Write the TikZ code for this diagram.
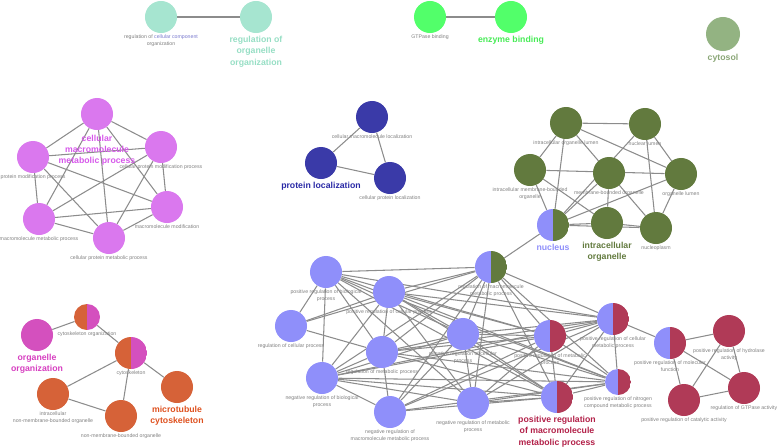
\documentclass[tikz,border=0pt]{standalone}
\usepackage{fontspec}
\setmainfont{Liberation Sans}
\usetikzlibrary{positioning, backgrounds}
\definecolor{cTeal}{RGB}{166,229,208}
\definecolor{cTealTxt}{RGB}{150,222,196}
\definecolor{cLime}{RGB}{82,255,106}
\definecolor{cLimeTxt}{RGB}{70,235,85}
\definecolor{cSage}{RGB}{147,179,130}
\definecolor{cSageTxt}{RGB}{138,166,118}
\definecolor{cPink}{RGB}{218,120,238}
\definecolor{cPinkTxt}{RGB}{214,88,234}
\definecolor{cNavy}{RGB}{58,58,168}
\definecolor{cNavyTxt}{RGB}{40,40,165}
\definecolor{cOlive}{RGB}{98,122,62}
\definecolor{cPeri}{RGB}{143,143,250}
\definecolor{cCrimson}{RGB}{176,58,87}
\definecolor{cCrimsonTxt}{RGB}{178,32,72}
\definecolor{cRust}{RGB}{214,98,56}
\definecolor{cRustTxt}{RGB}{222,80,30}
\definecolor{cMagenta}{RGB}{212,80,190}
\definecolor{cMagentaTxt}{RGB}{214,62,192}
\definecolor{cSel}{RGB}{120,120,205}
\definecolor{cLabel}{RGB}{128,128,128}
\definecolor{cEdge}{RGB}{140,140,140}
\tikzset{
	term/.style     ={circle, minimum size=0.8cm, inner sep=0pt, fill=#1},
	hterm/.style 2 args={circle, minimum size=0.8cm, inner sep=0pt,
		path picture={\fill[#1] (path picture bounding box.south west) rectangle (path picture bounding box.north);
			\fill[#2] (path picture bounding box.south) rectangle (path picture bounding box.north east);}},
	lbl/.style      ={font=\fontsize{3.7}{4.9}\selectfont, text=cLabel, align=center, inner sep=0pt, below=1pt of #1},
	hub/.style      ={font=\bfseries\fontsize{6.2}{8}\selectfont, align=center, inner sep=0pt},
	link/.style     ={draw=cEdge, line width=0.75pt},
}
\begin{document}
\begin{tikzpicture}[x=0.025cm, y=-0.025cm]
	\useasboundingbox (0,0) rectangle (778,448);
	% top pairs and cytosol
	\node[term=cTeal] (regcell) at (161,17) {};
	\node[term=cTeal] (regorg) at (256,17) {};
	\node[term=cLime] (gtpbind) at (430,17) {};
	\node[term=cLime] (enzbind) at (511,17) {};
	\node[term=cSage, minimum size=0.85cm] (cytosol) at (723,34) {};
	\node[lbl=regcell] (regcell-l) {regulation of \textcolor{cSel}{cellular component}\\organization};
	\node[lbl=gtpbind] (gtpbind-l) {GTPase binding};
	\node[hub, text=cTealTxt, below=2pt of regorg] (regorg-l) {regulation of\\organelle\\organization};
	\node[hub, text=cLimeTxt, below=2pt of enzbind] (enzbind-l) {enzyme binding};
	\node[hub, text=cSageTxt, below=2pt of cytosol] (cytosol-l) {cytosol};
	% cellular macromolecule metabolic process
	\node[term=cPink] (cmmp) at (97,114) {};
	\node[term=cPink] (pmp) at (33,157) {};
	\node[term=cPink] (cpmp) at (161,147) {};
	\node[term=cPink] (mmod) at (167,207) {};
	\node[term=cPink] (mmp) at (39,219) {};
	\node[term=cPink] (cpmetp) at (109,238) {};
	\node[lbl=pmp] (pmp-l) {protein modification process};
	\node[lbl=cpmp] (cpmp-l) {cellular protein modification process};
	\node[lbl=mmod] (mmod-l) {macromolecule modification};
	\node[lbl=mmp] (mmp-l) {macromolecule metabolic process};
	\node[lbl=cpmetp] (cpmetp-l) {cellular protein metabolic process};
	\node[hub, text=cPinkTxt, below=3pt of cmmp] (cmmp-l) {cellular\\macromolecule\\metabolic process};
	% protein localization
	\node[term=cNavy] (cml) at (372,117) {};
	\node[term=cNavy] (protloc) at (321,163) {};
	\node[term=cNavy] (cpl) at (390,178) {};
	\node[lbl=cml] (cml-l) {cellular macromolecule localization};
	\node[lbl=cpl] (cpl-l) {cellular protein localization};
	\node[hub, text=cNavyTxt, below=2pt of protloc] (protloc-l) {protein localization};
	% intracellular organelle
	\node[term=cOlive] (iol) at (566,123) {};
	\node[term=cOlive] (nl) at (645,124) {};
	\node[term=cOlive] (imbo) at (530,170) {};
	\node[term=cOlive] (mbo) at (609,173) {};
	\node[term=cOlive] (ol) at (681,174) {};
	\node[hterm={cPeri}{cOlive}] (nuc) at (553,225) {};
	\node[term=cOlive] (io) at (607,223) {};
	\node[term=cOlive] (np) at (656,228) {};
	\node[lbl=iol] (iol-l) {intracellular organelle lumen};
	\node[lbl=nl] (nl-l) {nuclear lumen};
	\node[lbl=imbo] (imbo-l) {intracellular membrane-bounded\\organelle};
	\node[lbl=mbo] (mbo-l) {membrane-bounded organelle};
	\node[lbl=ol] (ol-l) {organelle lumen};
	\node[lbl=np] (np-l) {nucleoplasm};
	\node[hub, text=cPeri, below=2pt of nuc] (nuc-l) {nucleus};
	\node[hub, text=cOlive, below=2pt of io] (io-l) {intracellular\\organelle};
	% regulation cluster
	\node[hterm={cPeri}{cOlive}] (rmmp) at (491,267) {};
	\node[term=cPeri] (prbp) at (326,272) {};
	\node[term=cPeri] (prcp) at (389,292) {};
	\node[term=cPeri] (rcp) at (291,326) {};
	\node[term=cPeri] (rmp) at (382,352) {};
	\node[term=cPeri] (nrbp) at (322,378) {};
	\node[term=cPeri] (nrmmp) at (390,412) {};
	\node[term=cPeri] (nrcp) at (463,334) {};
	\node[term=cPeri] (nrmetp) at (473,403) {};
	\node[hterm={cPeri}{cCrimson}] (prmetp) at (550,336) {};
	\node[hterm={cPeri}{cCrimson}] (prcmp) at (613,319) {};
	\node[hterm={cPeri}{cCrimson}] (prmf) at (670,343) {};
	\node[hterm={cPeri}{cCrimson}, minimum size=0.65cm] (prncmp) at (618,382) {};
	\node[hterm={cPeri}{cCrimson}] (prmmp) at (557,397) {};
	\node[term=cCrimson] (prha) at (729,331) {};
	\node[term=cCrimson] (rga) at (744,388) {};
	\node[term=cCrimson] (prca) at (684,400) {};
	\node[lbl=rmmp] (rmmp-l) {regulation of macromolecule\\metabolic process};
	\node[lbl=prbp] (prbp-l) {positive regulation of biological\\process};
	\node[lbl=prcp] (prcp-l) {positive regulation of cellular process};
	\node[lbl=rcp] (rcp-l) {regulation of cellular process};
	\node[lbl=rmp] (rmp-l) {regulation of metabolic process};
	\node[lbl=nrbp] (nrbp-l) {negative regulation of biological\\process};
	\node[lbl=nrmmp] (nrmmp-l) {negative regulation of\\macromolecule metabolic process};
	\node[lbl=nrcp] (nrcp-l) {negative regulation of cellular\\process};
	\node[lbl=nrmetp] (nrmetp-l) {negative regulation of metabolic\\process};
	\node[lbl=prmetp] (prmetp-l) {positive regulation of metabolic\\process};
	\node[lbl=prcmp] (prcmp-l) {positive regulation of cellular\\metabolic process};
	\node[lbl=prmf] (prmf-l) {positive regulation of molecular\\function};
	\node[lbl=prncmp] (prncmp-l) {positive regulation of nitrogen\\compound metabolic process};
	\node[lbl=prha] (prha-l) {positive regulation of hydrolase\\activity};
	\node[lbl=rga] (rga-l) {regulation of GTPase activity};
	\node[lbl=prca] (prca-l) {positive regulation of catalytic activity};
	\node[hub, text=cCrimsonTxt, below=2pt of prmmp] (prmmp-l) {positive regulation\\of macromolecule\\metabolic process};
	% cytoskeleton
	\node[term=cMagenta] (oo) at (37,335) {};
	\node[hterm={cRust}{cMagenta}, minimum size=0.65cm] (cso) at (87,317) {};
	\node[hterm={cRust}{cMagenta}] (csk) at (131,353) {};
	\node[term=cRust] (mtc) at (177,387) {};
	\node[term=cRust] (inmbo) at (53,394) {};
	\node[term=cRust] (nmbo) at (121,416) {};
	\node[lbl=cso] (cso-l) {cytoskeleton organization};
	\node[lbl=csk] (csk-l) {cytoskeleton};
	\node[lbl=inmbo] (inmbo-l) {intracellular\\non-membrane-bounded organelle};
	\node[lbl=nmbo] (nmbo-l) {non-membrane-bounded organelle};
	\node[hub, text=cMagentaTxt, below=2pt of oo] (oo-l) {organelle\\organization};
	\node[hub, text=cRustTxt, below=2pt of mtc] (mtc-l) {microtubule\\cytoskeleton};
	% edges
	\begin{scope}[on background layer]
		\foreach \a/\b in {regcell/regorg, gtpbind/enzbind, cml/protloc, cml/cpl, protloc/cpl,
			oo/cso, cso/csk, csk/mtc, csk/inmbo, csk/nmbo, inmbo/nmbo, nuc/rmmp}
			\draw[link] (\a) -- (\b);
		\foreach \a/\b in {cmmp/pmp, cmmp/cpmp, cmmp/mmod, cmmp/mmp, cmmp/cpmetp, pmp/cpmp, pmp/mmod, pmp/mmp, pmp/cpmetp,
			cpmp/mmod, cpmp/mmp, cpmp/cpmetp, mmod/mmp, mmod/cpmetp, mmp/cpmetp}
			\draw[link] (\a) -- (\b);
		\foreach \a/\b in {iol/nl, iol/imbo, iol/nuc, iol/ol, iol/np, nl/nuc, nl/ol, nl/np, imbo/ol, imbo/nuc, imbo/io,
			mbo/nuc, mbo/io, ol/nuc, ol/np, nuc/io, nuc/np, io/np}
			\draw[link] (\a) -- (\b);
		\foreach \a/\b in {prbp/rcp, prbp/nrbp, prbp/rmp, prbp/rmmp, prbp/nrcp, prbp/prmetp, prbp/prcmp, prbp/prmmp, prbp/prncmp, prbp/nrmetp,
			prcp/rcp, prcp/rmp, prcp/nrbp, prcp/rmmp, prcp/nrcp, prcp/prmetp, prcp/prcmp, prcp/prmmp, prcp/prncmp, prcp/nrmetp,
			rcp/rmp, rcp/rmmp,
			rmp/nrbp, rmp/nrmmp, rmp/rmmp, rmp/nrcp, rmp/prmetp, rmp/prcmp, rmp/prmmp, rmp/prncmp,
			nrbp/nrmmp, nrbp/rmmp, nrbp/nrcp, nrbp/prmetp, nrbp/prcmp, nrbp/prmmp, nrbp/prncmp, nrbp/nrmetp,
			nrmmp/rmmp, nrmmp/nrcp, nrmmp/prmetp, nrmmp/prmmp, nrmmp/prncmp, nrmmp/prcmp,
			nrcp/rmmp, nrcp/nrmetp, nrcp/prmetp, nrcp/prcmp, nrcp/prmmp, nrcp/prncmp,
			nrmetp/rmmp, nrmetp/prmetp, nrmetp/prmmp, nrmetp/prncmp, nrmetp/prcmp,
			rmmp/prmetp, rmmp/prcmp, rmmp/prmmp, rmmp/prncmp,
			prmetp/prcmp, prmetp/prmmp, prmetp/prncmp, prcmp/prmmp, prcmp/prncmp, prcmp/prmf, prmmp/prncmp,
			prmf/prha, prmf/prca, prmf/rga, prha/prca, prha/rga, prca/rga}
			\draw[link] (\a) -- (\b);
	\end{scope}
\end{tikzpicture}
\end{document}
